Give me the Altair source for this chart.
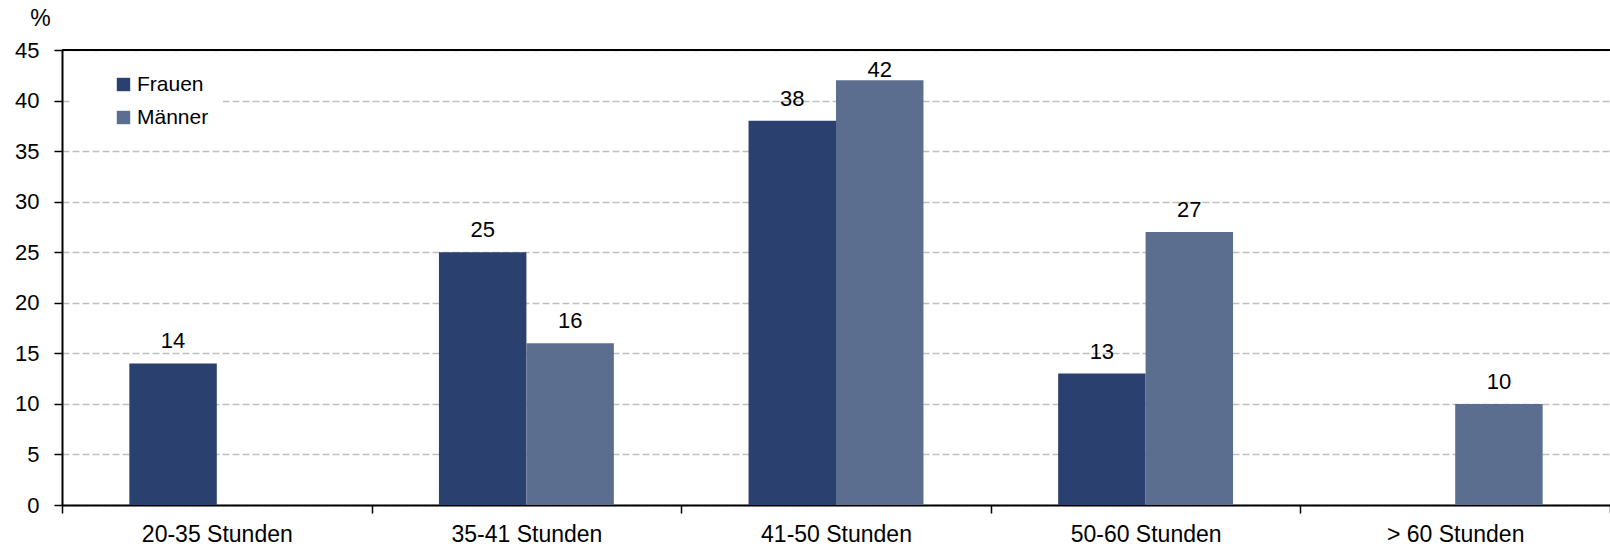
import altair as alt
import pandas as pd

categories = ["20-35 Stunden", "35-41 Stunden", "41-50 Stunden", "50-60 Stunden", "> 60 Stunden"]
series = ["Frauen", "Männer"]
frauen = [14, 25, 38, 13, None]
maenner = [None, 16, 42, 27, 10]
colors = ["#2A406F", "#5B6E8F"]
y_ticks = [0, 5, 10, 15, 20, 25, 30, 35, 40, 45]
top_line = [45]

rows = []
for c, f, m in zip(categories, frauen, maenner):
    if f is not None:
        rows.append({"cat": c, "series": "Frauen", "value": f})
    if m is not None:
        rows.append({"cat": c, "series": "Männer", "value": m})
df = pd.DataFrame(rows)

FONT = "Liberation Sans"

x = alt.X(
    "cat:N",
    sort=categories,
    scale=alt.Scale(paddingInner=0, paddingOuter=0),
    axis=alt.Axis(
        title=None, labelAngle=0, tickBand="extent", domainColor="black",
        domainWidth=2, tickColor="black", tickWidth=1.5, tickSize=8,
        labelFont=FONT, labelFontSize=23, labelColor="black", labelPadding=10,
        grid=False,
    ),
)
xo = alt.XOffset(
    "series:N", sort=series,
    scale=alt.Scale(domain=series, paddingOuter=0.77, paddingInner=0),
)
y_scale = alt.Scale(domain=[0, 45], nice=False)
y = alt.Y(
    "value:Q",
    scale=y_scale,
    axis=alt.Axis(
        values=y_ticks, title="%", titleAngle=0, titleX=-22, titleY=-32,
        titleAlign="center", titleBaseline="middle", titleFontSize=23,
        titleFontWeight="normal", titleFont=FONT, titleColor="black",
        grid=True, gridDash=[7, 3], gridColor="#BFBFBF", gridWidth=1.5,
        domainColor="black", domainWidth=2, tickSize=8, tickColor="black",
        tickWidth=1.5, labelPadding=15, labelFontSize=22, labelFont=FONT,
        labelColor="black",
    ),
)

bars = alt.Chart(df).mark_bar().encode(
    x=x,
    xOffset=xo,
    y=y,
    color=alt.Color(
        "series:N",
        sort=series,
        scale=alt.Scale(domain=series, range=colors),
        legend=alt.Legend(
            title=None, orient="none", legendX=10, legendY=10,
            symbolType="square", symbolSize=180, symbolStrokeWidth=0,
            symbolOpacity=1, labelFontSize=21, labelFont=FONT,
            labelColor="black", padding=14, fillColor="white",
            symbolOffset=27, rowPadding=11, labelOffset=3,
        ),
    ),
)

labels = alt.Chart(df).transform_calculate(
    label_y="min(datum.value, 40.85)"
).mark_text(fontSize=22, font=FONT, dy=-22, baseline="middle", color="black").encode(
    x=alt.X("cat:N", sort=categories),
    xOffset=xo,
    y=alt.Y("label_y:Q", scale=y_scale),
    text=alt.Text("value:Q"),
)

top = alt.Chart(pd.DataFrame({"v": top_line})).mark_rule(
    color="black", strokeWidth=2
).encode(y=alt.Y("v:Q", scale=y_scale))

chart = alt.layer(bars, labels, top).properties(
    width=1548,
    height=455,
    autosize=alt.AutoSizeParams(type="none"),
    padding={"left": 62, "top": 50, "right": 0, "bottom": 41},
    background="white",
).configure_view(stroke=None).configure(font=FONT)

chart.save("out.html", embed_options={"renderer": "svg", "actions": False})
